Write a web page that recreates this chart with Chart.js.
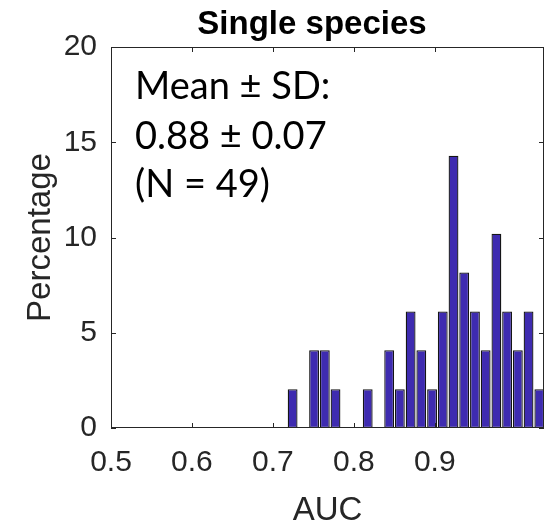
<!DOCTYPE html>
<html>
<head>
<meta charset="utf-8">
<script src="https://cdn.jsdelivr.net/npm/chart.js@4.4.1/dist/chart.umd.min.js"></script>
<style>
  html, body { margin: 0; padding: 0; background: #fff; }
  #contenedor { width: 551px; height: 526px; }
</style>
</head>
<body>
<div id="contenedor"><canvas id="hist_auc"></canvas></div>
<script>
// centros de cada bin (AUC)
const centros_bin = [
  0.7244, 0.7509, 0.7642, 0.7774, 0.8172, 0.8437, 0.8569, 0.8702, 0.8834, 0.8967,
  0.9099, 0.9232, 0.9364, 0.9497, 0.9629, 0.9762, 0.9894, 1.0027, 1.0159, 1.0292,
];
// porcentaje de especies en cada bin (N = 49)
const porcentajes = [
  2.04, 4.08, 4.08, 2.04, 2.04, 4.08, 2.04, 6.12, 4.08, 2.04,
  6.12, 14.29, 8.16, 6.12, 4.08, 10.2, 6.12, 4.08, 6.12, 2.04,
];
const ticks_x = [0.5, 0.6, 0.7, 0.8, 0.9];
const ticks_y = [0, 5, 10, 15, 20];
const titulo = "Single species";
const lineas_texto = ["Mean \u00b1 SD:", "0.88 \u00b1 0.07", "(N = 49)"];

const gris_ejes = "#262626";

const plugin_marco = {
  id: "marcoMatlab",
  afterDatasetsDraw: (chart) => {
    const { ctx, chartArea, scales } = chart;
    const a = chartArea;
    ctx.save();
    ctx.strokeStyle = gris_ejes;
    ctx.lineWidth = 1;
    // caja alrededor del area
    ctx.strokeRect(a.left + 0.5, a.top + 0.5, a.right - a.left - 1, a.bottom - a.top - 1);
    // marcas hacia adentro en los cuatro lados
    ctx.beginPath();
    ticks_x.forEach((v) => {
      const px = Math.round(scales.x.getPixelForValue(v)) + 0.5;
      ctx.moveTo(px, a.bottom);
      ctx.lineTo(px, a.bottom - 5);
      ctx.moveTo(px, a.top);
      ctx.lineTo(px, a.top + 5);
    });
    ticks_y.forEach((v) => {
      const py = Math.round(scales.y.getPixelForValue(v)) + 0.5;
      ctx.moveTo(a.left, py);
      ctx.lineTo(a.left + 5, py);
      ctx.moveTo(a.right, py);
      ctx.lineTo(a.right - 5, py);
    });
    ctx.stroke();
    ctx.restore();
  },
  afterDraw: (chart) => {
    const { ctx, chartArea } = chart;
    ctx.save();
    // titulo
    ctx.fillStyle = "#000";
    ctx.font = "bold 33px 'Liberation Sans', Arial, sans-serif";
    ctx.textAlign = "center";
    ctx.textBaseline = "alphabetic";
    ctx.fillText(titulo, 312, 34);
    // texto de la media
    ctx.font = "38px Lato, 'Open Sans', sans-serif";
    ctx.textAlign = "left";
    const y_base = [99, 149, 197];
    lineas_texto.forEach((t, i) => {
      ctx.fillText(t, chartArea.left + 24, y_base[i]);
    });
    ctx.restore();
  },
};

const ctx = document.getElementById("hist_auc").getContext("2d");
const chart_hist = new Chart(ctx, {
  type: "bar",
  data: {
    datasets: [
      {
        label: "Percentage",
        data: centros_bin.map((c, i) => ({ x: c, y: porcentajes[i] })),
        backgroundColor: "#3e2bb0",
        borderColor: "#151515",
        borderWidth: 1.3,
        borderSkipped: false,
        barPercentage: 0.92,
        categoryPercentage: 1,
      },
    ],
  },
  options: {
    responsive: true,
    maintainAspectRatio: false,
    animation: false,
    layout: {
      padding: { top: 47, right: 7, left: 0, bottom: 0 },
    },
    plugins: {
      legend: { display: false },
      tooltip: { enabled: false },
      title: { display: false },
    },
    scales: {
      x: {
        type: "linear",
        min: 0.5,
        max: 1.035,
        offset: false,
        grid: { display: false, drawTicks: false },
        border: { display: false },
        afterBuildTicks: (scale) => {
          scale.ticks = ticks_x.map((v) => ({ value: v }));
        },
        afterFit: (scale) => {
          scale.height = 98;
        },
        ticks: {
          color: gris_ejes,
          padding: 17,
          maxRotation: 0,
          font: { family: "'Liberation Sans', Arial, sans-serif", size: 30 },
          callback: (value) => Number(value).toFixed(1),
        },
        title: {
          display: true,
          text: "AUC",
          color: gris_ejes,
          padding: { top: 0, bottom: -5 },
          font: { family: "'Liberation Sans', Arial, sans-serif", size: 33 },
        },
      },
      y: {
        min: 0,
        max: 20,
        grid: { display: false, drawTicks: false },
        border: { display: false },
        afterBuildTicks: (scale) => {
          scale.ticks = ticks_y.map((v) => ({ value: v }));
        },
        afterFit: (scale) => {
          scale.width = 111;
        },
        ticks: {
          color: gris_ejes,
          padding: 14,
          font: { family: "'Liberation Sans', Arial, sans-serif", size: 30 },
        },
        title: {
          display: true,
          text: "Percentage",
          color: gris_ejes,
          padding: { top: 21, bottom: 0 },
          font: { family: "'Liberation Sans', Arial, sans-serif", size: 33 },
        },
      },
    },
  },
  plugins: [plugin_marco],
});
</script>
</body>
</html>
